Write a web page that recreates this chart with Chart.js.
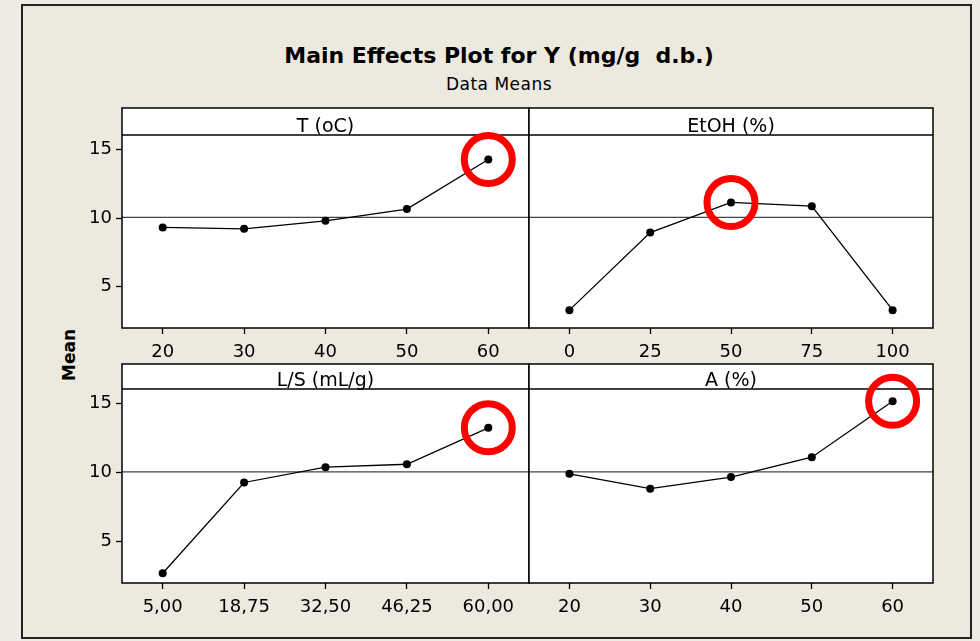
<!DOCTYPE html>
<html lang="en">
<head>
<meta charset="UTF-8">
<title>Main Effects Plot for Y</title>
<script src="https://cdn.jsdelivr.net/npm/chart.js"></script>
<style>
    body { margin: 0; background: #efece5; width: 980px; height: 641px; overflow: hidden; }
    #moldura { position: absolute; left: 21px; top: 4px; width: 947px; height: 631px; border: 2px solid #222; background: #ece9df; }
    canvas { position: absolute; }
    .titulo { position: absolute; left: 0; width: 998px; text-align: center; font-family: "DejaVu Sans", sans-serif; color: #000; white-space: pre; }
    #t1 { top: 45px; font-size: 22px; line-height: 22px; font-weight: bold; }
    #t2 { top: 76px; font-size: 17px; line-height: 17px; letter-spacing: 0.5px; }
    #mean { position: absolute; left: 69px; top: 355px; transform: translate(-50%, -50%) rotate(-90deg);
            font-family: "DejaVu Sans", sans-serif; font-weight: bold; font-size: 17px; }
</style>
</head>
<body>
<div id="moldura"></div>
<div class="titulo" id="t1">Main Effects Plot for Y (mg/g  d.b.)</div>
<div class="titulo" id="t2">Data Means</div>
<div id="mean">Mean</div>
<canvas id="c1" width="493" height="270" style="left:40px; top:100px;"></canvas>
<canvas id="c2" width="412" height="270" style="left:525px; top:100px;"></canvas>
<canvas id="c3" width="493" height="270" style="left:40px; top:355px;"></canvas>
<canvas id="c4" width="412" height="270" style="left:525px; top:355px;"></canvas>
<script>
    // valores
    const yTicks = [5, 10, 15];
    const yMin = 2;
    const yMax = 16.05;
    const mediaGeral = 10.05;

    const tLabels = ['20', '30', '40', '50', '60'];
    const tMedias = [9.32, 9.22, 9.80, 10.66, 14.27];
    const etohLabels = ['0', '25', '50', '75', '100'];
    const etohMedias = [3.30, 8.95, 11.14, 10.87, 3.30];
    const lsLabels = ['5,00', '18,75', '32,50', '46,25', '60,00'];
    const lsMedias = [2.71, 9.28, 10.39, 10.60, 13.24];
    const aLabels = ['20', '30', '40', '50', '60'];
    const aMedias = [9.91, 8.83, 9.67, 11.11, 15.16];
    // ponto circulado em vermelho em cada painel
    const destaques = [4, 2, 4, 4];

    const fonte = '"DejaVu Sans", sans-serif';

    const painelPlugin = {
        id: 'painel',
        beforeDatasetsDraw(chart, args, opts) {
            const ctx = chart.ctx;
            const a = chart.chartArea;
            const h = opts.altura;
            ctx.save();
            ctx.fillStyle = '#fff';
            ctx.fillRect(a.left, a.top - h, a.right - a.left, a.bottom - a.top + h);

            const y = chart.scales.y.getPixelForValue(mediaGeral);
            ctx.strokeStyle = '#444';
            ctx.lineWidth = 1.2;
            ctx.beginPath();
            ctx.moveTo(a.left, y);
            ctx.lineTo(a.right, y);
            ctx.stroke();

            ctx.fillStyle = '#000';
            ctx.font = '19px ' + fonte;
            ctx.textAlign = 'center';
            ctx.textBaseline = 'alphabetic';
            ctx.fillText(opts.texto, (a.left + a.right) / 2, a.top - 3);

            ctx.strokeStyle = '#000';
            ctx.lineWidth = 1.5;
            ctx.strokeRect(a.left, a.top - h, a.right - a.left, a.bottom - a.top + h);
            ctx.beginPath();
            ctx.moveTo(a.left, a.top);
            ctx.lineTo(a.right, a.top);
            ctx.stroke();
            ctx.restore();
        }
    };

    function painel(id, texto, labels, medias, destaque, mostrarY, padding, altura) {
        const circulo = medias.map((v, i) => i === destaque ? v : null);
        new Chart(document.getElementById(id), {
            type: 'line',
            data: {
                labels: labels,
                datasets: [{
                    data: circulo,
                    showLine: false,
                    pointRadius: 24,
                    pointHoverRadius: 24,
                    pointBorderWidth: 7,
                    pointBorderColor: '#ff0000',
                    pointBackgroundColor: 'rgba(0,0,0,0)',
                    clip: false
                }, {
                    data: medias,
                    borderColor: '#000',
                    borderWidth: 1.3,
                    pointRadius: 4,
                    pointBackgroundColor: '#000',
                    pointBorderWidth: 0,
                    tension: 0
                }]
            },
            options: {
                responsive: false,
                animation: false,
                events: [],
                layout: { padding: padding, autoPadding: false },
                plugins: {
                    legend: { display: false },
                    tooltip: { enabled: false },
                    painel: { texto: texto, altura: altura }
                },
                scales: {
                    x: {
                        offset: true,
                        grid: { drawOnChartArea: false, tickLength: 6, color: '#000', tickWidth: 1.3 },
                        border: { display: false },
                        ticks: { color: '#000', font: { family: fonte, size: 18 }, padding: 8, maxRotation: 0, autoSkip: false },
                        afterFit: s => { s.height = 42; s.paddingLeft = 0; s.paddingRight = 0; }
                    },
                    y: {
                        display: mostrarY,
                        min: yMin,
                        max: yMax,
                        afterBuildTicks: s => { s.ticks = yTicks.map(v => ({ value: v })); },
                        grid: { drawOnChartArea: false, tickLength: 6, color: '#000', tickWidth: 1.3 },
                        border: { display: false },
                        ticks: { color: '#000', font: { family: fonte, size: 18 }, padding: 4 },
                        afterFit: s => { s.width = mostrarY ? 82 : 0; s.paddingTop = 0; s.paddingBottom = 0; }
                    }
                }
            },
            plugins: [painelPlugin]
        });
    }

    painel('c1', 'T (oC)', tLabels, tMedias, destaques[0], true, { top: 35, right: 4 }, 27);
    painel('c2', 'EtOH (%)', etohLabels, etohMedias, destaques[1], false, { top: 35, left: 4, right: 4 }, 27);
    painel('c3', 'L/S (mL/g)', lsLabels, lsMedias, destaques[2], true, { top: 34, right: 4 }, 25);
    painel('c4', 'A (%)', aLabels, aMedias, destaques[3], false, { top: 34, left: 4, right: 4 }, 25);
</script>
</body>
</html>
